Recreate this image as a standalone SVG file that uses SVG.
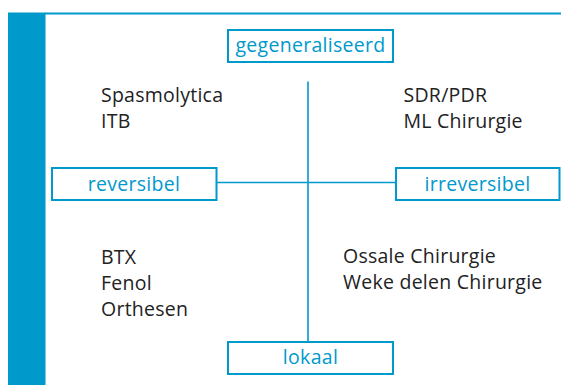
<svg xmlns="http://www.w3.org/2000/svg" width="561" height="385" viewBox="0 0 561 385">
  <style>
    .box { fill: #ffffff; stroke: #0099cc; stroke-width: 2; }
    .lbl { font-family: "Open Sans", Lato, sans-serif; font-size: 19.5px; letter-spacing: 0.3px; fill: #0099cc; text-anchor: middle; }
    .item { font-family: "Open Sans", Lato, sans-serif; font-size: 19.5px; letter-spacing: 0.25px; fill: #222222; }
    .axis { stroke: #0099cc; stroke-width: 1.6; fill: none; }
  </style>
  <rect width="561" height="385" fill="#ffffff"/>
  <!-- frame: side bar and top rule -->
  <rect x="8" y="12.5" width="37.5" height="372.5" fill="#0099cc"/>
  <line x1="45" y1="13.5" x2="561" y2="13.5" stroke="#0099cc" stroke-width="1.8"/>

  <!-- axes -->
  <g id="connectors">
    <line class="axis" x1="308" y1="81.5" x2="308" y2="341"/>
    <line class="axis" x1="217" y1="182.5" x2="396" y2="182.5"/>
  </g>

  <g id="gegeneraliseerd">
    <rect class="box" x="228" y="30" width="165" height="32"/>
    <text class="lbl" x="310.5" y="52">gegeneraliseerd</text>
  </g>
  <g id="reversibel">
    <rect class="box" x="52" y="168" width="164.5" height="32"/>
    <text class="lbl" x="134" y="190.5">reversibel</text>
  </g>
  <g id="irreversibel">
    <rect class="box" x="396" y="168" width="163.5" height="32"/>
    <text class="lbl" x="477.5" y="190.5">irreversibel</text>
  </g>
  <g id="lokaal">
    <rect class="box" x="228" y="342" width="165" height="32"/>
    <text class="lbl" x="310.5" y="364">lokaal</text>
  </g>

  <g id="generalized-reversible">
    <text class="item" x="101" y="102">Spasmolytica</text>
    <text class="item" x="101" y="128">ITB</text>
  </g>
  <g id="generalized-irreversible">
    <text class="item" x="403.5" y="102">SDR/PDR</text>
    <text class="item" x="403.5" y="128">ML Chirurgie</text>
  </g>
  <g id="local-reversible">
    <text class="item" x="101" y="264">BTX</text>
    <text class="item" x="101" y="290">Fenol</text>
    <text class="item" x="101" y="315.5">Orthesen</text>
  </g>
  <g id="local-irreversible">
    <text class="item" x="343" y="263">Ossale Chirurgie</text>
    <text class="item" x="343" y="288.5">Weke delen Chirurgie</text>
  </g>
</svg>
